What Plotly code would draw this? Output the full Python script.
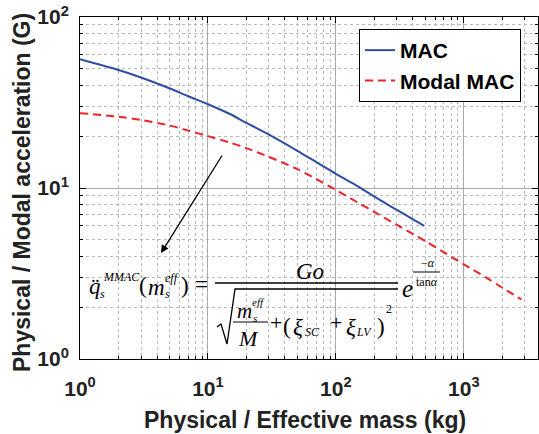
import plotly.graph_objects as go

# ---- data ----
mac_mass = [1, 2, 3, 5, 7, 10, 15, 20, 30, 50, 70, 100, 150, 200, 300, 490]
mac_acc = [56.6, 49.0, 44.3, 38.3, 34.4, 30.9, 27.0, 24.0, 20.5, 16.5, 14.2, 12.1, 10.2, 8.9, 7.44, 6.0]

mmac_mass = [1, 2, 3, 5, 7, 10, 15, 20, 30, 50, 70, 100, 150, 200, 300, 500, 700, 1000, 1500, 2000, 2820]
mmac_acc = [27.4, 26.1, 25.0, 23.2, 21.7, 20.1, 18.4, 17.1, 15.2, 12.9, 11.3, 9.75, 8.18, 7.24, 6.08, 4.9, 4.2, 3.58, 2.99, 2.61, 2.23]

x_tickvals = [1, 10, 100, 1000]
x_ticktext = ["10<sup>0</sup>", "10<sup>1</sup>", "10<sup>2</sup>", "10<sup>3</sup>"]
y_tickvals = [1, 10, 100]
y_ticktext = ["10<sup>0</sup>", "10<sup>1</sup>", "10<sup>2</sup>"]

W, H = 539, 434
L, R, T, B = 80, 538, 17, 359


def px(x):
    return (x - L) / (R - L)


def py(y):
    return (B - y) / (B - T)


fig = go.Figure()
fig.add_trace(go.Scatter(x=mac_mass, y=mac_acc, mode="lines", name="MAC",
                         line=dict(color="#2E4DA3", width=2, shape="spline", smoothing=0.8)))
fig.add_trace(go.Scatter(x=mmac_mass, y=mmac_acc, mode="lines", name="Modal MAC",
                         line=dict(color="#F0222A", width=2, dash="8px,5px",
                                   shape="spline", smoothing=0.8)))

axis_common = dict(
    type="log", showline=True, linecolor="black", linewidth=1, mirror="ticks",
    ticks="inside", ticklen=6, tickcolor="black",
    showgrid=True, gridcolor="#a8a8a8", gridwidth=1,
    minor=dict(dtick="D1", ticks="inside", ticklen=3, tickcolor="black", showgrid=True,
               gridcolor="#b8b8b8", griddash="dot", gridwidth=1),
    tickfont=dict(family="Liberation Sans", size=21, color="#222", weight="bold"),
    zeroline=False,
)

fig.update_xaxes(range=[0, 3.58], tickvals=x_tickvals, ticktext=x_ticktext,
                 ticklabelstandoff=11, **axis_common)
fig.update_yaxes(range=[0, 2], tickvals=y_tickvals, ticktext=y_ticktext,
                 ticklabelstandoff=6, **axis_common)

ann = []
# axis titles
ann.append(dict(text="<b>Physical / Effective mass (kg)</b>", x=px(305), y=py(420),
                xref="paper", yref="paper", showarrow=False, xanchor="center", yanchor="middle",
                font=dict(family="Liberation Sans", size=23, color="#222")))
ann.append(dict(text="<b>Physical / Modal acceleration (G)</b>", x=px(22), y=py(193),
                xref="paper", yref="paper", showarrow=False, xanchor="center", yanchor="middle",
                textangle=-90, font=dict(family="Liberation Sans", size=23, color="#222")))

# arrow
ann.append(dict(x=px(161), y=py(253), xref="paper", yref="paper", text="",
                showarrow=True, ax=62, ay=-99, arrowhead=2, arrowsize=1.2,
                arrowwidth=1.3, arrowcolor="black"))

SER = "Liberation Serif"


def t(txt, cx, cy, size):
    ann.append(dict(text=txt, x=px(cx), y=py(cy), xref="paper", yref="paper",
                    showarrow=False, xanchor="center", yanchor="middle",
                    font=dict(family=SER, size=size, color="black")))


# formula pieces
t("<i>q\u0308</i>", 95, 286, 23)
t("<i>MMAC</i>", 121, 277, 12)
t("<i>s</i>", 102, 294, 12)
t("(", 143, 285, 23)
t("<i>m</i>", 156, 287, 23)
t("<i>eff</i>", 172, 278, 12)
t("<i>s</i>", 167, 294, 12)
t(")", 185, 285, 23)
t("=", 201, 284, 23)
t("<i>Go</i>", 310, 271, 23)
t("<i>m</i>", 244, 311, 21)
t("<i>eff</i>", 258, 302, 11)
t("<i>s</i>", 255, 318, 11)
t("<i>M</i>", 248, 338, 22)
t("+", 276, 322, 22)
t("(", 287, 326, 23)
t("<i>\u03be</i>", 298, 327, 23)
t("<i>SC</i>", 312, 332, 12)
t("+", 336, 322, 22)
t("<i>\u03be</i>", 351, 327, 23)
t("<i>LV</i>", 364, 332, 12)
t(")", 381, 326, 23)
t("2", 389, 309, 12)
t("<i>e</i>", 407, 288, 25)
t("\u2212<i>\u03b1</i>", 428, 263, 12)
t("tan<i>\u03b1</i>", 427, 282, 12)

shapes = []


def hline(x0, x1, y, w=1.3):
    shapes.append(dict(type="line", xref="paper", yref="paper",
                       x0=px(x0), x1=px(x1), y0=py(y), y1=py(y),
                       line=dict(color="black", width=w)))


hline(215, 398, 283, 1.4)
hline(233, 268, 322, 1.1)
hline(413, 440, 272, 1.0)
# square root sign
pts = [(217, 327), (221, 324), (227, 344), (235, 289), (398, 289)]
path = "M " + " L ".join(f"{px(a):.5f},{py(b):.5f}" for a, b in pts)
shapes.append(dict(type="path", xref="paper", yref="paper", path=path,
                   line=dict(color="black", width=1.3)))

fig.update_layout(
    width=W, height=H,
    margin=dict(l=L, r=W - R, t=T, b=H - B, pad=0),
    paper_bgcolor="white", plot_bgcolor="white",
    showlegend=True,
    legend=dict(x=px(359), y=py(29), xanchor="left", yanchor="top",
                xref="paper", yref="paper",
                bordercolor="black", borderwidth=1, bgcolor="white",
                font=dict(family="Liberation Sans", size=21, color="black", weight="bold"),
                tracegroupgap=0),
    annotations=ann, shapes=shapes,
)

fig.write_html("out.html")
